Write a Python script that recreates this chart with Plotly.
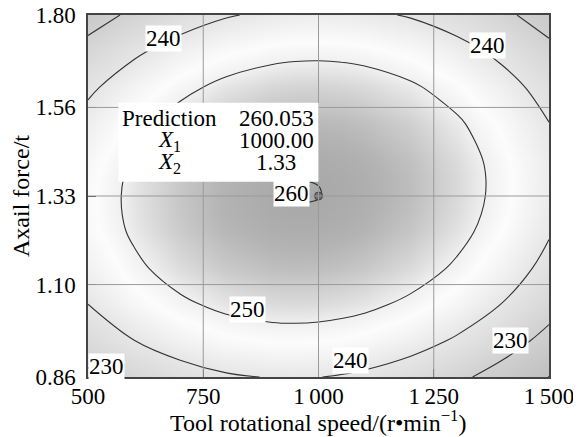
import plotly.graph_objects as go

# ---------------- data ----------------
x_speed = [500, 600, 700, 800, 900, 950, 1000, 1050, 1100, 1200, 1300, 1400, 1500]
y_force = [0.86, 0.954, 1.048, 1.142, 1.236, 1.283, 1.33, 1.377, 1.424, 1.518, 1.612, 1.706, 1.80]

z_r00 = [228.30, 233.22, 236.86, 239.22, 240.30, 240.36, 240.10, 239.52, 238.62, 235.86, 231.82, 226.50, 219.90]
z_r01 = [234.91, 239.91, 243.64, 246.08, 247.25, 247.35, 247.13, 246.59, 245.73, 243.06, 239.10, 233.87, 227.35]
z_r02 = [239.96, 245.09, 248.90, 251.42, 252.67, 252.82, 252.64, 252.14, 251.33, 248.74, 244.86, 239.71, 233.28]
z_r03 = [243.57, 248.74, 252.63, 255.25, 256.58, 256.76, 256.63, 256.18, 255.40, 252.89, 249.11, 244.04, 237.69]
z_r04 = [245.62, 250.88, 254.85, 257.55, 258.96, 259.19, 259.10, 258.69, 257.96, 255.53, 251.83, 246.84, 240.58]
z_r05 = [246.08, 251.37, 255.39, 258.13, 259.59, 259.84, 259.77, 259.37, 258.66, 256.28, 252.62, 247.68, 241.46]
z_r06 = [246.15, 251.49, 255.55, 258.33, 259.83, 260.10, 260.05, 259.68, 258.99, 256.65, 253.03, 248.13, 241.95]
z_r07 = [245.85, 251.23, 255.33, 258.15, 259.69, 259.98, 259.96, 259.61, 258.94, 256.64, 253.06, 248.20, 242.07]
z_r08 = [245.16, 250.58, 254.73, 257.59, 259.18, 259.49, 259.48, 259.15, 258.50, 256.25, 252.71, 247.90, 241.80]
z_r09 = [242.65, 248.16, 252.39, 255.33, 257.00, 257.36, 257.39, 257.10, 256.50, 254.33, 250.87, 246.14, 240.13]
z_r10 = [238.62, 244.21, 248.52, 251.56, 253.31, 253.70, 253.78, 253.54, 252.97, 250.88, 247.52, 242.87, 236.94]
z_r11 = [233.07, 238.75, 243.14, 246.26, 248.09, 248.53, 248.65, 248.45, 247.93, 245.92, 242.64, 238.07, 232.23]
z_r12 = [226.00, 231.76, 236.24, 239.44, 241.36, 241.84, 242.00, 241.84, 241.36, 239.44, 236.24, 231.76, 226.00]
z_strength = [z_r00, z_r01, z_r02, z_r03, z_r04, z_r05, z_r06,
              z_r07, z_r08, z_r09, z_r10, z_r11, z_r12]

contour_levels = [220, 230, 240, 250, 260]

label_text = ["240", "240", "260", "250", "240", "230", "230"]
label_x = [663, 1366, 942, 845, 1069, 1416, 541]
label_y = [1.740, 1.722, 1.337, 1.036, 0.904, 0.956, 0.887]

pred_value = "260.053"
pred_x1 = 1000.00
pred_x2 = 1.33

x_ticks = [500, 750, 1000, 1250, 1500]
x_ticktext = ["500", "750", "1\u2009000", "1\u2009250", "1\u2009500"]
y_ticks = [0.86, 1.10, 1.33, 1.56, 1.80]
y_ticktext = ["0.86", "1.10", "1.33", "1.56", "1.80"]

x_title = "Tool rotational speed/(r\u2022min<sup>\u22121</sup>)"
y_title = "Axail force/t"

# ---------------- figure ----------------
FONT = "Liberation Serif, Times New Roman, serif"
FS = 23

gray_scale = [
    [0.000, "#bcbcbc"],
    [0.279, "#d0d0d0"],
    [0.512, "#e6e6e6"],
    [0.674, "#fcfcfc"],
    [0.744, "#f0f0f0"],
    [0.837, "#d2d2d2"],
    [0.930, "#b4b4b4"],
    [1.000, "#a4a4a4"],
]

fig = go.Figure()
fig.add_trace(go.Heatmap(
    x=x_speed, y=y_force, z=z_strength,
    zsmooth="best", colorscale=gray_scale, zmin=218, zmax=261,
    showscale=False, hoverinfo="skip"))

fig.add_trace(go.Contour(
    x=x_speed, y=y_force, z=z_strength,
    contours=dict(start=contour_levels[0], end=contour_levels[-1],
                  size=contour_levels[1] - contour_levels[0],
                  coloring="none", showlabels=False),
    line=dict(color="#333333", width=1.1, smoothing=1.0),
    showscale=False, hoverinfo="skip"))

fig.add_trace(go.Scatter(
    x=[pred_x1], y=[pred_x2], mode="markers",
    marker=dict(size=8, color="#6e6e6e", line=dict(color="#444444", width=1)),
    showlegend=False, hoverinfo="skip"))

shapes = []
for v in x_ticks[1:-1]:
    shapes.append(dict(type="line", xref="x", yref="paper", x0=v, x1=v, y0=0, y1=1,
                       line=dict(color="#9a9a9a", width=1), layer="above"))
for v in y_ticks[1:-1]:
    shapes.append(dict(type="line", xref="paper", yref="y", x0=0, x1=1, y0=v, y1=v,
                       line=dict(color="#9a9a9a", width=1), layer="above"))
# white prediction box
shapes.append(dict(type="rect", xref="x", yref="y", x0=566, x1=1000, y0=1.367, y1=1.572,
                   fillcolor="white", line=dict(width=0), layer="above"))

annotations = []
for t, lx, ly in zip(label_text, label_x, label_y):
    annotations.append(dict(x=lx, y=ly, xref="x", yref="y", text=t, showarrow=False,
                            bgcolor="white", borderpad=0,
                            font=dict(family=FONT, size=FS, color="black")))

box_rows_left = ["Prediction", "<i>X</i><sub>1</sub>", "<i>X</i><sub>2</sub>"]
box_rows_right = [pred_value, f"{pred_x1:.2f}", f"{pred_x2:.2f}"]
row_y = [1.5325, 1.473, 1.416]
for lt, rt, ry in zip(box_rows_left, box_rows_right, row_y):
    annotations.append(dict(x=676, y=ry, xref="x", yref="y", text=lt, showarrow=False,
                            font=dict(family=FONT, size=FS, color="black")))
    annotations.append(dict(x=908, y=ry, xref="x", yref="y", text=rt, showarrow=False,
                            font=dict(family=FONT, size=FS, color="black")))

# x axis title (placed as paper annotation below the tick labels)
annotations.append(dict(x=0.5, y=-0.122, xref="paper", yref="paper", text=x_title,
                        showarrow=False, xanchor="center", yanchor="middle",
                        font=dict(family=FONT, size=24, color="black")))

axis_common = dict(
    showgrid=False, zeroline=False, showline=True, mirror=True,
    linecolor="#444444", linewidth=1.5,
    ticks="inside", ticklen=8, tickwidth=1, tickcolor="#444444",
    tickfont=dict(family=FONT, size=FS, color="black"),
    ticklabeloverflow="allow",
)

# the page body adds an 8px offset; the figure is sized to fill the window
fig.update_layout(
    width=573, height=429,
    margin=dict(l=80, r=32, t=7, b=60, autoexpand=False),
    paper_bgcolor="white", plot_bgcolor="white",
    showlegend=False,
    shapes=shapes, annotations=annotations,
    xaxis=dict(range=[500, 1500], tickvals=x_ticks, ticktext=x_ticktext,
               ticklabelstandoff=-2,
               automargin=False, **axis_common),
    yaxis=dict(range=[0.86, 1.80], tickvals=y_ticks, ticktext=y_ticktext,
               ticklabelstandoff=6,
               title=dict(text=y_title,
                          font=dict(family=FONT, size=24, color="black"), standoff=2),
               automargin=False, **axis_common),
)

fig.write_html("out.html")
